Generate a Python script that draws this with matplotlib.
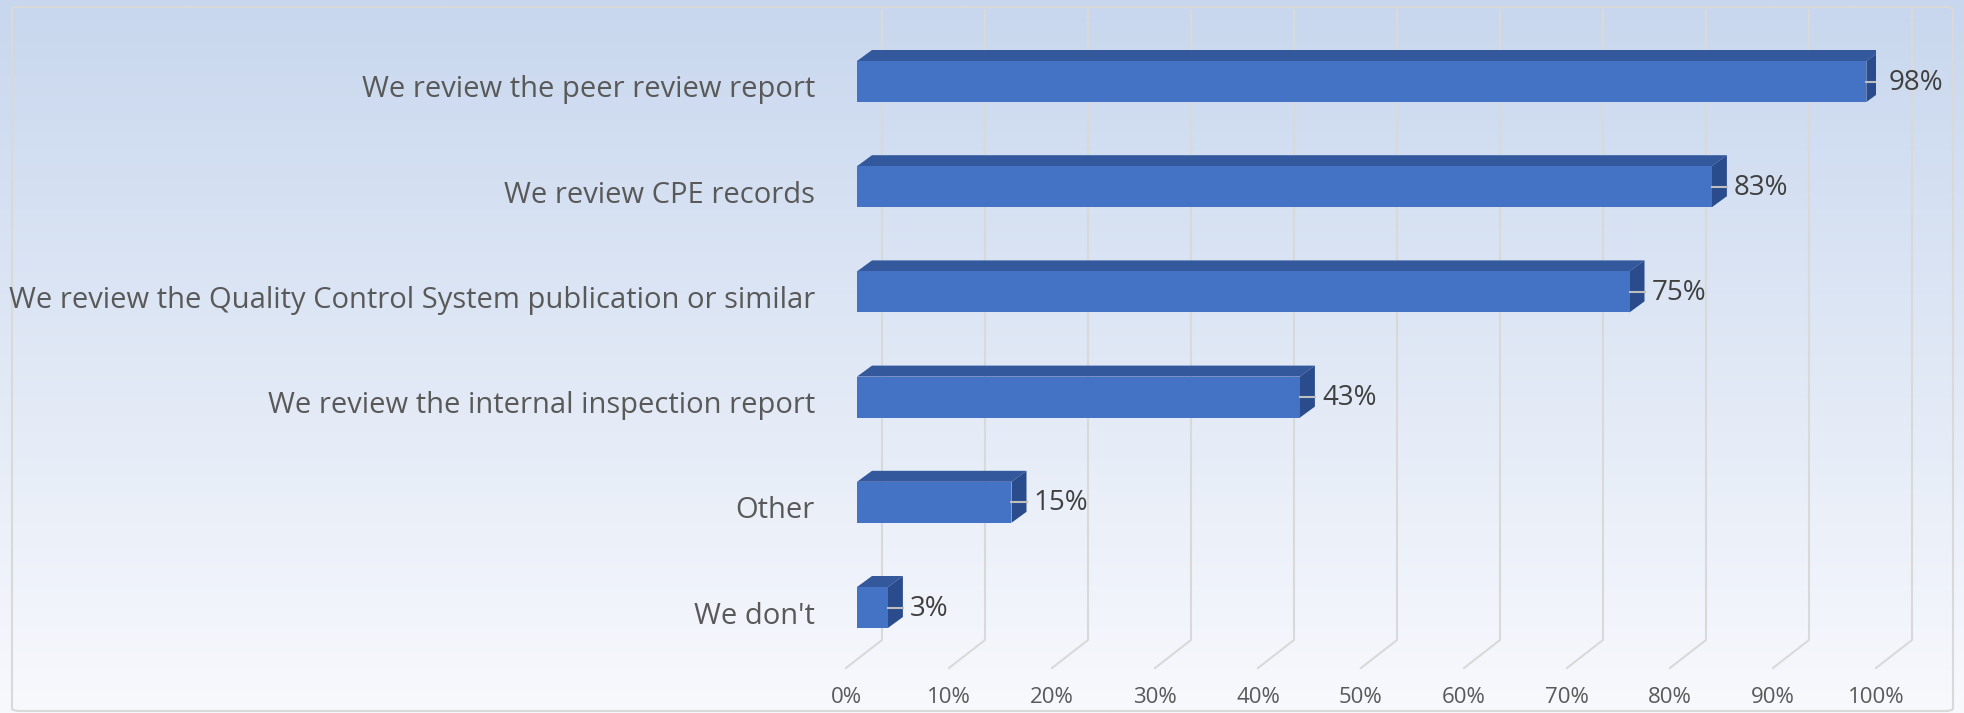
import numpy as np
import matplotlib
matplotlib.use("Agg")
import matplotlib.pyplot as plt
from matplotlib.patches import Polygon, FancyBboxPatch
from matplotlib.colors import LinearSegmentedColormap

# data (top to bottom as shown)
categories = [
    "We review the peer review report",
    "We review CPE records",
    "We review the Quality Control System publication or similar",
    "We review the internal inspection report",
    "Other",
    "We don't",
]
values = [98, 83, 75, 43, 15, 3]
ticks = list(range(0, 101, 10))

plt.rcParams['font.family'] = ['Open Sans', 'DejaVu Sans']

W, H = 1965, 713
fig = plt.figure(figsize=(W / 100, H / 100), dpi=100)

# background gradient + light border
bg = fig.add_axes([0, 0, 1, 1])
cmap = LinearSegmentedColormap.from_list("bg", ["#c8d7ee", "#f8f9fd"])
bg.imshow(np.linspace(0, 1, 256).reshape(-1, 1), aspect='auto', cmap=cmap,
          extent=[0, 1, 0, 1])
bg.set_xlim(0, 1)
bg.set_ylim(0, 1)
bg.axis('off')
bg.add_patch(FancyBboxPatch((12 / W, 2 / H), 1941 / W, 704 / H,
                            boxstyle="round,pad=0,rounding_size=0.004",
                            fc='none', ec='#d9d9d9', lw=1.5,
                            transform=bg.transAxes))

# main plot area = front plane of the 3D floor
left_px, right_px, top_px, bottom_px = 846, 1876, 10, 668
ax = fig.add_axes([left_px / W, 1 - bottom_px / H,
                   (right_px - left_px) / W, (bottom_px - top_px) / H])
ax.patch.set_alpha(0)
px_x = (right_px - left_px) / 100.0      # pixels per percent
px_y = 105.2                             # pixels per category
y_first = 81.5                           # centre of first bar (px from top)
y_top = (top_px - y_first) / px_y
y_bot = (bottom_px - y_first) / px_y
ax.set_xlim(0, 100)
ax.set_ylim(y_bot, y_top)

# 3D offsets in data units
floor_dx, floor_dy = 36 / px_x, -28 / px_y
bar_off_x = 11 / px_x
bar_h = 41 / px_y
bar_dx, bar_dy = 15 / px_x, -11 / px_y

# back-wall grid lines and floor diagonals
for t in ticks:
    ax.plot([t, t + floor_dx, t + floor_dx], [y_bot, y_bot + floor_dy, y_top],
            color='#d9d9d9', lw=1.5, zorder=1, clip_on=False)

front_c, top_c, side_c = '#4472c4', '#34589c', '#2b4c8c'
for i, (cat, v) in enumerate(zip(categories, values)):
    x0 = bar_off_x
    x1 = bar_off_x + v
    yt = i - bar_h / 2
    yb = i + bar_h / 2
    ax.add_patch(Polygon([(x0, yt), (x1, yt), (x1 + bar_dx, yt + bar_dy),
                          (x0 + bar_dx, yt + bar_dy)], closed=True,
                         fc=top_c, ec='none', zorder=3))
    ax.add_patch(Polygon([(x1, yt), (x1 + bar_dx, yt + bar_dy),
                          (x1 + bar_dx, yb + bar_dy), (x1, yb)], closed=True,
                         fc=side_c, ec='none', zorder=3))
    ax.add_patch(Polygon([(x0, yt), (x1, yt), (x1, yb), (x0, yb)], closed=True,
                         fc=front_c, ec='none', zorder=4))
    # leader line + value label
    ax.plot([x1, x1 + bar_dx], [i, i], color='#bfbfbf', lw=1.5, zorder=5)
    ax.text(x1 + bar_dx + 7 / px_x, i + 1 / px_y, f"{v}%", fontsize=20,
            color='#404040', va='center', ha='left', zorder=6)
    # category label
    ax.text(-31 / px_x, i + 8.5 / px_y, cat, fontsize=21, color='#595959',
            va='center', ha='right', clip_on=False)

ax.set_xticks(ticks)
ax.set_xticklabels([f"{t}%" for t in ticks], fontsize=16, color='#595959')
ax.tick_params(axis='x', length=0, pad=14)
ax.set_yticks([])
for s in ax.spines.values():
    s.set_visible(False)

fig.savefig("out.png", dpi=100)
